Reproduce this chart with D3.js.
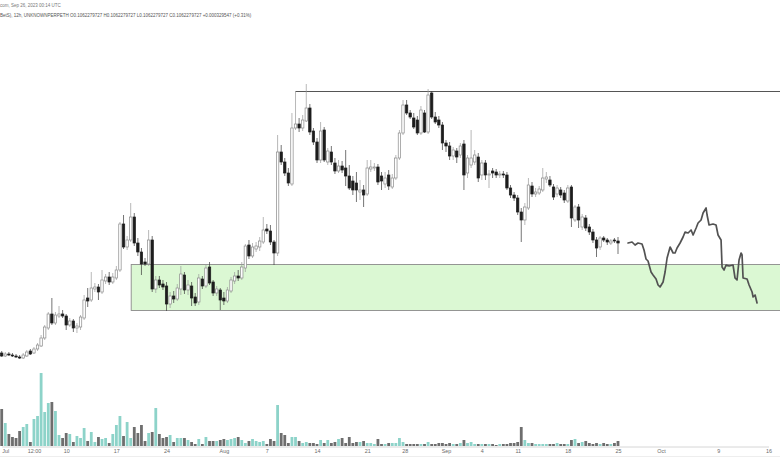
<!DOCTYPE html>
<html><head><meta charset="utf-8">
<script src="https://cdn.jsdelivr.net/npm/d3@7"></script>
<style>body{margin:0;background:#fff}svg{display:block;font-family:"Liberation Sans",Arial,sans-serif}</style>
</head><body><svg id="c" width="780" height="470"></svg>
<script>
// 12h candles, first candle opens 2023-07-01 00:00 UTC
const firstCandle = "2023-07-01T00:00:00Z";
const candleHours = 12;
const open = [
0.0842,0.0836,0.0840,0.0838,0.0836,0.0834,0.0832,0.0836,0.0846,0.0842,
0.0850,0.0856,0.0872,0.0892,0.0920,0.0902,0.0916,0.0920,0.0916,0.0898,
0.0906,0.0892,0.0894,0.0912,0.0952,0.0948,0.0970,0.0974,0.0964,0.0986,
0.0994,0.0984,0.0992,0.1008,0.1100,0.1054,0.1068,0.1114,0.1062,0.1044,
0.1024,0.1020,0.1068,0.0970,0.0988,0.0980,0.0976,0.0940,0.0956,0.0950,
0.0970,0.0998,0.0968,0.0976,0.0954,0.0944,0.0990,0.0976,0.1014,0.0984,
0.0962,0.0968,0.0952,0.0946,0.0966,0.0986,0.0996,0.0992,0.1012,0.1058,
0.1036,0.1050,0.1054,0.1064,0.1090,0.1086,0.1064,0.1042,0.1244,0.1224,
0.1202,0.1180,0.1292,0.1300,0.1292,0.1306,0.1332,0.1286,0.1264,0.1228,
0.1288,0.1224,0.1244,0.1222,0.1206,0.1216,0.1212,0.1196,0.1186,0.1182,
0.1164,0.1168,0.1160,0.1210,0.1212,0.1214,0.1196,0.1180,0.1198,0.1174,
0.1192,0.1232,0.1282,0.1338,0.1322,0.1312,0.1308,0.1282,0.1322,0.1284,
0.1362,0.1314,0.1308,0.1298,0.1262,0.1256,0.1236,0.1246,0.1238,0.1260,
0.1202,0.1218,0.1224,0.1234,0.1198,0.1222,0.1198,0.1206,0.1204,0.1198,
0.1200,0.1198,0.1172,0.1158,0.1152,0.1124,0.1108,0.1132,0.1176,0.1160,
0.1162,0.1168,0.1190,0.1188,0.1174,0.1160,0.1168,0.1162,0.1146,0.1174,
0.1108,0.1134,0.1094,0.1112,0.1094,0.1084,0.1068,0.1054,0.1072,0.1068,
0.1062,0.1068,0.1066];
const high = [
0.0846,0.0844,0.0844,0.0842,0.0840,0.0838,0.0842,0.0848,0.0850,0.0854,
0.0862,0.0878,0.0898,0.0924,0.0952,0.0924,0.0936,0.0928,0.0920,0.0912,
0.0910,0.0902,0.0918,0.0958,0.0972,0.1004,0.0982,0.0980,0.1008,0.1000,
0.1004,0.1002,0.1016,0.1104,0.1118,0.1076,0.1142,0.1122,0.1072,0.1052,
0.1032,0.1088,0.1076,0.0996,0.0996,0.0988,0.0984,0.0964,0.0966,0.0980,
0.1016,0.1004,0.0988,0.0984,0.0962,0.1000,0.0996,0.1020,0.1024,0.0988,
0.0976,0.0972,0.0964,0.0974,0.0994,0.1004,0.1008,0.1024,0.1060,0.1068,
0.1062,0.1064,0.1074,0.1114,0.1100,0.1098,0.1068,0.1278,0.1258,0.1232,
0.1212,0.1322,0.1366,0.1312,0.1318,0.1380,0.1340,0.1292,0.1272,0.1304,
0.1294,0.1252,0.1256,0.1232,0.1228,0.1226,0.1248,0.1218,0.1196,0.1204,
0.1188,0.1178,0.1228,0.1228,0.1222,0.1220,0.1204,0.1204,0.1208,0.1200,
0.1238,0.1288,0.1348,0.1348,0.1328,0.1322,0.1316,0.1336,0.1328,0.1370,
0.1366,0.1324,0.1316,0.1304,0.1268,0.1264,0.1254,0.1252,0.1262,0.1268,
0.1238,0.1288,0.1248,0.1242,0.1228,0.1228,0.1208,0.1212,0.1210,0.1206,
0.1206,0.1204,0.1178,0.1164,0.1158,0.1132,0.1142,0.1192,0.1184,0.1172,
0.1176,0.1212,0.1204,0.1196,0.1180,0.1178,0.1174,0.1168,0.1178,0.1178,
0.1138,0.1140,0.1120,0.1118,0.1100,0.1090,0.1074,0.1076,0.1076,0.1072,
0.1070,0.1072,0.1074];
const low = [
0.0834,0.0834,0.0836,0.0834,0.0832,0.0830,0.0830,0.0834,0.0838,0.0840,
0.0846,0.0854,0.0868,0.0888,0.0898,0.0898,0.0912,0.0912,0.0888,0.0894,
0.0884,0.0882,0.0888,0.0908,0.0934,0.0944,0.0964,0.0948,0.0960,0.0980,
0.0978,0.0980,0.0988,0.1004,0.1050,0.1048,0.1064,0.1056,0.1036,0.0998,
0.1016,0.1016,0.0964,0.0962,0.0972,0.0968,0.0926,0.0932,0.0942,0.0946,
0.0958,0.0960,0.0958,0.0936,0.0936,0.0938,0.0970,0.0972,0.0978,0.0956,
0.0956,0.0928,0.0938,0.0942,0.0962,0.0980,0.0986,0.0988,0.1004,0.1030,
0.1032,0.1044,0.1046,0.1060,0.1080,0.1058,0.1018,0.1036,0.1218,0.1196,
0.1176,0.1176,0.1288,0.1284,0.1286,0.1304,0.1278,0.1258,0.1222,0.1222,
0.1224,0.1218,0.1218,0.1200,0.1202,0.1202,0.1176,0.1168,0.1158,0.1144,
0.1148,0.1134,0.1156,0.1204,0.1206,0.1178,0.1168,0.1172,0.1168,0.1170,
0.1188,0.1228,0.1278,0.1318,0.1310,0.1290,0.1278,0.1278,0.1282,0.1280,
0.1310,0.1300,0.1292,0.1248,0.1244,0.1228,0.1228,0.1222,0.1232,0.1168,
0.1192,0.1212,0.1218,0.1184,0.1188,0.1188,0.1172,0.1192,0.1192,0.1192,
0.1192,0.1168,0.1152,0.1146,0.1118,0.1064,0.1098,0.1128,0.1154,0.1154,
0.1158,0.1164,0.1182,0.1174,0.1148,0.1154,0.1152,0.1142,0.1142,0.1094,
0.1104,0.1092,0.1088,0.1086,0.1078,0.1062,0.1034,0.1048,0.1064,0.1058,
0.1058,0.1062,0.1040];
const close = [
0.0836,0.0840,0.0838,0.0836,0.0834,0.0832,0.0838,0.0844,0.0840,0.0850,
0.0858,0.0872,0.0894,0.0920,0.0902,0.0918,0.0920,0.0916,0.0898,0.0906,
0.0892,0.0896,0.0914,0.0948,0.0946,0.0972,0.0974,0.0964,0.0988,0.0994,
0.0984,0.0994,0.1008,0.1100,0.1054,0.1068,0.1114,0.1062,0.1044,0.1020,
0.1020,0.1068,0.0970,0.0988,0.0978,0.0974,0.0940,0.0956,0.0950,0.0972,
0.1000,0.0968,0.0978,0.0952,0.0942,0.0992,0.0976,0.1012,0.0982,0.0962,
0.0970,0.0948,0.0946,0.0968,0.0988,0.0996,0.0992,0.1014,0.1056,0.1036,
0.1054,0.1056,0.1066,0.1088,0.1086,0.1064,0.1042,0.1244,0.1224,0.1202,
0.1182,0.1292,0.1300,0.1292,0.1308,0.1332,0.1284,0.1264,0.1228,0.1286,
0.1228,0.1246,0.1224,0.1206,0.1216,0.1208,0.1196,0.1172,0.1168,0.1168,
0.1168,0.1158,0.1212,0.1214,0.1214,0.1184,0.1186,0.1192,0.1176,0.1192,
0.1232,0.1282,0.1338,0.1322,0.1314,0.1294,0.1282,0.1328,0.1284,0.1358,
0.1314,0.1304,0.1298,0.1262,0.1256,0.1236,0.1248,0.1234,0.1256,0.1198,
0.1232,0.1232,0.1238,0.1192,0.1222,0.1198,0.1200,0.1202,0.1198,0.1200,
0.1198,0.1172,0.1158,0.1152,0.1124,0.1108,0.1134,0.1178,0.1160,0.1164,
0.1170,0.1192,0.1194,0.1178,0.1154,0.1172,0.1158,0.1148,0.1172,0.1112,
0.1134,0.1108,0.1114,0.1092,0.1084,0.1068,0.1052,0.1072,0.1068,0.1064,
0.1066,0.1066,0.1062];
const volume = [
37,23,12,9,8,15,19,22,4,27,
30,73,34,43,44,35,11,8,13,12,
4,10,8,18,5,14,4,9,7,8,
3,12,21,30,10,24,8,19,13,21,
5,13,14,38,12,8,9,11,4,8,
8,8,6,4,2,7,2,9,5,5,
5,6,7,6,7,8,9,6,3,5,
7,5,4,5,2,7,5,41,13,11,
3,9,9,5,3,4,3,3,2,6,
3,6,3,4,7,8,3,9,3,4,
4,5,3,3,2,7,2,2,3,3,
3,8,4,2,2,2,2,2,2,4,
2,2,3,3,2,3,2,2,3,6,
3,4,2,2,2,2,2,2,1,2,
2,2,3,3,4,19,6,3,3,2,
2,2,2,2,2,3,2,2,2,6,
7,3,4,5,3,2,3,2,3,2,
2,3,5];
// projected path (days since 2023-07-01 00:00 UTC, price)
const projDays = [87.40,87.96,88.38,88.79,89.35,89.63,89.91,90.19,90.61,90.89,91.31,91.59,91.87,92.29,92.57,92.85,93.27,93.69,93.96,94.24,94.66,95.08,95.36,95.78,96.20,96.48,96.90,97.17,97.59,97.87,98.29,98.43,98.71,99.26,99.68,99.96,100.38,100.52,100.80,101.08,101.50,102.05,102.33,102.61,102.89,103.17,103.31,103.45,104.01,104.29,104.71,104.85,105.13,105.40];
const projPrice = [0.1062,0.1064,0.1058,0.1062,0.1060,0.1048,0.1030,0.1026,0.1004,0.0998,0.0990,0.0978,0.0974,0.0984,0.1004,0.1032,0.1054,0.1042,0.1042,0.1052,0.1062,0.1074,0.1084,0.1082,0.1088,0.1078,0.1092,0.1102,0.1108,0.1122,0.1132,0.1118,0.1098,0.1100,0.1098,0.1078,0.1068,0.1014,0.1008,0.1018,0.1016,0.1018,0.0992,0.0988,0.1028,0.1042,0.1038,0.0992,0.0990,0.0978,0.0964,0.0954,0.0958,0.0942];
const tickDates = ["2023-07-01T00:00Z","2023-07-05T12:00Z","2023-07-10T00:00Z","2023-07-17T00:00Z","2023-07-24T00:00Z","2023-08-01T00:00Z","2023-08-07T00:00Z","2023-08-14T00:00Z","2023-08-21T00:00Z","2023-08-26T06:00Z","2023-09-01T00:00Z","2023-09-06T00:00Z","2023-09-11T00:00Z","2023-09-18T00:00Z","2023-09-25T00:00Z","2023-10-01T00:00Z","2023-10-09T00:00Z","2023-10-16T00:00Z"];
const tickLabels = ["Jul","12:00","10","17","24","Aug","7","14","21","28","Sep","4","11","18","25","Oct","9","16"];
const zoneTop = 0.1020, zoneBottom = 0.0928, zoneStart = "2023-07-19T00:00:00Z";
const resistance = 0.1366, resistanceStart = "2023-08-11T00:00:00Z";
const headerLines = ["com, Sep 26, 2023 00:14 UTC",
  "BetS), 12h, UNKNOWNPERPETH O0.1062279727 H0.1062279727 L0.1062279727 C0.1062279727 +0.000329547 (+0.31%)"];

const W = 780, H = 470;
const svg = d3.select("#c");
const t0 = new Date(firstCandle);
const x = d3.scaleUtc().domain([new Date("2023-07-01T00:00:00Z"), new Date("2023-10-16T00:00:00Z")]).range([1.7, 768.5]);
const y = d3.scaleLinear().domain([0.0656, 0.1548]).range([446, 0]);
const yv = d3.scaleLinear().domain([0, 120]).range([446, 326]);

const data = open.map((o, i) => ({
  t: new Date(t0.getTime() + i * candleHours * 3600e3),
  o, h: high[i], l: low[i], c: close[i], v: volume[i], up: close[i] >= o
}));

// support zone
svg.append("rect")
  .attr("x", x(new Date(zoneStart)) + 0.5)
  .attr("y", y(zoneTop) + 0.5)
  .attr("width", W + 10 - x(new Date(zoneStart)))
  .attr("height", y(zoneBottom) - y(zoneTop))
  .attr("fill", "#dbf8d3").attr("stroke", "#8a8a8a").attr("stroke-width", 0.9);

// resistance line
svg.append("line")
  .attr("x1", x(new Date(resistanceStart))).attr("x2", W + 5)
  .attr("y1", Math.round(y(resistance)) + 0.5).attr("y2", Math.round(y(resistance)) + 0.5)
  .attr("stroke", "#555555").attr("stroke-width", 1.1);

// volume
svg.append("g").selectAll("rect").data(data).join("rect")
  .attr("x", d => x(d.t) - 1.4)
  .attr("width", 2.8)
  .attr("y", d => yv(d.v))
  .attr("height", d => yv(0) - yv(d.v))
  .attr("fill", d => d.up ? "#8dd3c9" : "#6e6e6e");

// axis
const axis = d3.axisBottom(x)
  .tickValues(tickDates.map(s => new Date(s)))
  .tickFormat((d, i) => tickLabels[i])
  .tickSize(0).tickPadding(3);
const ax = svg.append("g").attr("transform", "translate(0,446.5)").call(axis);
ax.select(".domain").attr("stroke", "#d6d6d6").attr("stroke-width", 1);
ax.selectAll("text").attr("font-size", 5.4).attr("fill", "#6a6a6a")
  .attr("font-family", "'Liberation Sans',Arial,sans-serif");
ax.selectAll("text").filter((d, i) => i === 0).attr("text-anchor", "start").attr("dx", 0);
svg.append("line").attr("x1", 0).attr("x2", W).attr("y1", 456.5).attr("y2", 456.5)
  .attr("stroke", "#eeeeee").attr("stroke-width", 1);

// candles
const cg = svg.append("g");
cg.selectAll("line").data(data).join("line")
  .attr("x1", d => x(d.t)).attr("x2", d => x(d.t))
  .attr("y1", d => y(d.h)).attr("y2", d => y(d.l))
  .attr("stroke", d => d.up ? "#9a9a9a" : "#3a3a3a").attr("stroke-width", 0.7);
cg.selectAll("rect").data(data).join("rect")
  .attr("x", d => x(d.t) - 1.2)
  .attr("width", 2.4)
  .attr("y", d => y(Math.max(d.o, d.c)))
  .attr("height", d => Math.max(0.8, Math.abs(y(d.o) - y(d.c))))
  .attr("fill", d => d.up ? "#ffffff" : "#1d1d1d")
  .attr("stroke", d => d.up ? "#8a8a8a" : "#1d1d1d")
  .attr("stroke-width", 0.7);

// projected path
const dayMs = 864e5, base = new Date("2023-07-01T00:00:00Z").getTime();
const proj = projDays.map((d, i) => ({t: new Date(base + d * dayMs), p: projPrice[i]}));
svg.append("path").datum(proj)
  .attr("d", d3.line().x(d => x(d.t)).y(d => y(d.p)))
  .attr("fill", "none").attr("stroke", "#525252").attr("stroke-width", 1.7)
  .attr("stroke-linejoin", "round").attr("stroke-linecap", "round");

// header
svg.append("g").selectAll("text").data(headerLines).join("text")
  .attr("x", 0).attr("y", (d, i) => 6.5 + i * 10.5)
  .attr("font-size", 4.5).attr("fill", (d, i) => i ? "#555" : "#777")
  .text(d => d);
</script></body></html>
